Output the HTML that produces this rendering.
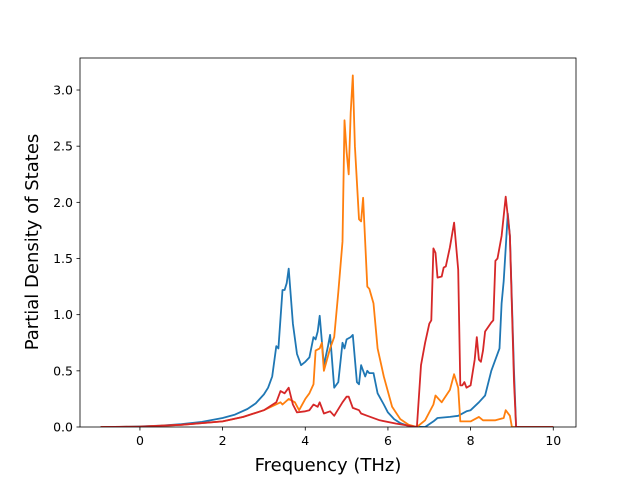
<!DOCTYPE html>
<html><head><meta charset="utf-8"><style>body{margin:0;background:#fff}svg{display:block;font-family:"DejaVu Sans","Liberation Sans",sans-serif}</style></head>
<body>
<svg id="chart" width="640" height="480" xmlns="http://www.w3.org/2000/svg">
<rect width="640" height="480" fill="#fff"/>
<g id="plot"></g>
<rect x="80" y="58" width="496" height="369" fill="none" stroke="#000" stroke-width="0.8"/>
<g id="axes"></g>
<text x="328" y="471" text-anchor="middle" font-size="18">Frequency (THz)</text>
<text transform="translate(38,242) rotate(-90)" text-anchor="middle" font-size="18">Partial Density of States</text>
</svg>
<script>
const xTicks=[0,2,4,6,8,10];
const yTicks=[0,0.5,1.0,1.5,2.0,2.5,3.0];
const blueX=[-0.95,-0.5,0,0.5,1,1.5,2,2.3,2.6,2.8,3.0,3.1,3.2,3.3,3.35,3.45,3.5,3.55,3.6,3.7,3.8,3.9,4.0,4.1,4.2,4.25,4.3,4.35,4.45,4.55,4.6,4.7,4.8,4.9,4.95,5.0,5.1,5.15,5.25,5.3,5.35,5.45,5.5,5.55,5.65,5.75,5.9,6.0,6.15,6.3,6.45,6.6,6.9,7.1,7.2,7.5,7.7,7.9,8.0,8.2,8.35,8.5,8.7,8.75,8.8,8.9,8.95,9.05,9.1,10];
const blueY=[0,0.001,0.005,0.012,0.025,0.045,0.08,0.11,0.16,0.21,0.29,0.35,0.45,0.72,0.7,1.22,1.22,1.28,1.41,0.92,0.65,0.55,0.58,0.62,0.8,0.78,0.85,0.99,0.55,0.72,0.82,0.35,0.4,0.75,0.7,0.78,0.8,0.82,0.4,0.38,0.55,0.45,0.5,0.48,0.48,0.3,0.2,0.13,0.07,0.035,0.015,0.003,0,0.05,0.08,0.09,0.1,0.14,0.15,0.22,0.28,0.5,0.7,1.1,1.3,1.9,1.7,0.5,0,0];
const orangeX=[-0.95,0,1,2,2.5,3,3.4,3.45,3.6,3.75,3.85,4.0,4.1,4.2,4.25,4.35,4.4,4.45,4.6,4.7,4.8,4.9,4.95,5.0,5.05,5.1,5.15,5.2,5.3,5.35,5.4,5.5,5.55,5.65,5.75,5.9,6.1,6.3,6.5,6.7,6.9,7.1,7.15,7.3,7.5,7.6,7.7,7.75,8.0,8.2,8.3,8.6,8.8,8.85,8.95,9.0,10];
const orangeY=[0,0.003,0.02,0.05,0.09,0.15,0.22,0.2,0.25,0.22,0.15,0.25,0.3,0.38,0.68,0.7,0.75,0.5,0.7,0.8,1.2,1.65,2.73,2.45,2.25,2.8,3.13,2.5,1.85,1.83,2.04,1.25,1.23,1.1,0.7,0.45,0.18,0.07,0.02,0,0.06,0.2,0.28,0.22,0.33,0.47,0.35,0.05,0.05,0.09,0.06,0.06,0.08,0.15,0.1,0,0];
const redX=[-0.95,0,1,2,2.5,3,3.3,3.4,3.5,3.6,3.7,3.8,4.0,4.1,4.2,4.3,4.35,4.45,4.6,4.7,4.9,5.0,5.05,5.15,5.3,5.35,5.5,5.8,6.2,6.7,6.8,6.9,7.0,7.05,7.1,7.15,7.2,7.3,7.35,7.4,7.5,7.6,7.7,7.75,7.8,7.85,7.9,8.0,8.1,8.15,8.2,8.25,8.3,8.35,8.5,8.55,8.6,8.65,8.75,8.85,8.95,9.05,9.1,10];
const redY=[0,0.003,0.02,0.05,0.09,0.15,0.22,0.32,0.3,0.35,0.2,0.13,0.14,0.15,0.2,0.18,0.22,0.12,0.14,0.1,0.22,0.27,0.27,0.17,0.15,0.12,0.1,0.06,0.03,0,0.55,0.75,0.92,0.95,1.59,1.55,1.33,1.34,1.42,1.43,1.6,1.82,1.4,0.37,0.37,0.4,0.35,0.37,0.6,0.8,0.6,0.58,0.68,0.85,0.93,0.95,1.48,1.5,1.7,2.05,1.7,0.4,0,0];
const X0=80,X1=576,Y0=427,Y1=58,xmin=-1.45,xmax=10.55,ymin=0,ymax=3.285;
function sx(v){return X0+(v-xmin)/(xmax-xmin)*(X1-X0);}
function sy(v){return Y0-(v-ymin)/(ymax-ymin)*(Y0-Y1);}
const NS="http://www.w3.org/2000/svg";
const plot=document.getElementById('plot'),axes=document.getElementById('axes');
const clip=document.createElementNS(NS,'clipPath');clip.setAttribute('id','c');
const cr=document.createElementNS(NS,'rect');cr.setAttribute('x',X0);cr.setAttribute('y',Y1);cr.setAttribute('width',X1-X0);cr.setAttribute('height',Y0-Y1);
clip.appendChild(cr);document.getElementById('chart').appendChild(clip);
plot.setAttribute('clip-path','url(#c)');
function line(xs,ys,color,name){
  const p=document.createElementNS(NS,'polyline');
  p.setAttribute('points',xs.map((x,i)=>sx(x).toFixed(1)+','+sy(ys[i]).toFixed(1)).join(' '));
  p.setAttribute('fill','none');p.setAttribute('stroke',color);p.setAttribute('stroke-width','1.8');p.setAttribute('stroke-linejoin','round');
  
  
  plot.appendChild(p);
}
line(blueX,blueY,'#1f77b4','series-blue');
line(orangeX,orangeY,'#ff7f0e','series-orange');
line(redX,redY,'#d62728','series-red');
xTicks.forEach(t=>{
  const l=document.createElementNS(NS,'line');
  l.setAttribute('x1',sx(t));l.setAttribute('x2',sx(t));l.setAttribute('y1',Y0);l.setAttribute('y2',Y0+3.5);l.setAttribute('stroke','#000');l.setAttribute('stroke-width','0.8');
  
  
  axes.appendChild(l);
  const tx=document.createElementNS(NS,'text');
  tx.setAttribute('x',sx(t));tx.setAttribute('y',Y0+18);tx.setAttribute('text-anchor','middle');tx.setAttribute('font-size','12.5');
  tx.textContent=String(t);
  
  
  axes.appendChild(tx);
});
yTicks.forEach(t=>{
  const l=document.createElementNS(NS,'line');
  l.setAttribute('x1',X0-3.5);l.setAttribute('x2',X0);l.setAttribute('y1',sy(t));l.setAttribute('y2',sy(t));l.setAttribute('stroke','#000');l.setAttribute('stroke-width','0.8');
  
  
  axes.appendChild(l);
  const tx=document.createElementNS(NS,'text');
  tx.setAttribute('x',X0-7);tx.setAttribute('y',sy(t)+4.5);tx.setAttribute('text-anchor','end');tx.setAttribute('font-size','12.5');
  tx.textContent=t.toFixed(1);
  
  
  axes.appendChild(tx);
});
</script>
</body></html>
